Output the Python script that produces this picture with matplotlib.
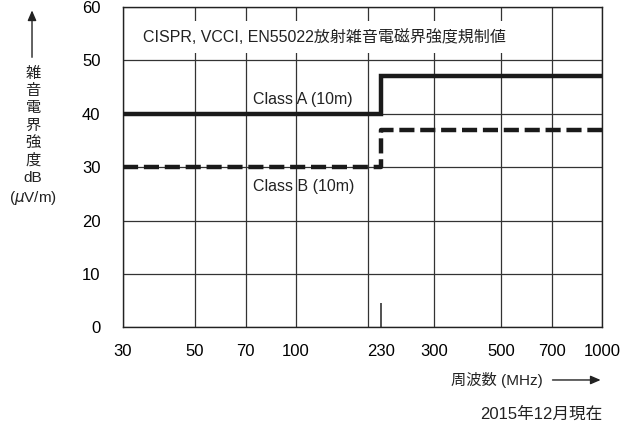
import numpy as np
import matplotlib
matplotlib.use("Agg")
import matplotlib.pyplot as plt
from matplotlib.ticker import FixedLocator, FixedFormatter
import matplotlib.transforms as mtransforms

plt.rcParams['font.family'] = ['Liberation Sans', 'Noto Sans CJK JP', 'DejaVu Sans']

# limit values (dBuV/m) vs frequency (MHz)
class_a_freq = [30, 230, 1000]
class_a_level = [40, 47, 47]
class_b_freq = [30, 230, 1000]
class_b_level = [30, 37, 37]

# gridlines (200 has no label) and the single marked frequency 230
grid_freqs = [30, 50, 70, 100, 200, 300, 500, 700, 1000]
grid_labels = ['30', '50', '70', '100', '', '300', '500', '700', '1000']
mark_freqs = [230]
mark_labels = ['230']
y_ticks = [0, 10, 20, 30, 40, 50, 60]

# the original axis is a hand drawn log scale, not quite even
axis_freqs = [30, 50, 70, 100, 200, 230, 300, 500, 700, 1000]
axis_pos = [0, 0.1508, 0.2565, 0.3613, 0.5115, 0.5392, 0.6497, 0.7894, 0.8945, 1.0]
log_f = np.log10(axis_freqs)


def forward(x):
    x = np.clip(np.asarray(x, dtype=float), 1e-6, None)
    return np.interp(np.log10(x), log_f, axis_pos)


def inverse(p):
    return 10 ** np.interp(p, axis_pos, log_f)


fig = plt.figure(figsize=(6.24, 4.23), dpi=100)
ax = fig.add_axes([0.1966, 0.2262, 0.7686, 0.7573])
ax.set_xscale('function', functions=(forward, inverse))
ax.set_xlim(30, 1000)
ax.set_ylim(0, 60)

ax.plot(class_a_freq, class_a_level, drawstyle='steps-post', color='#1a1a1a',
        lw=3.2, solid_joinstyle='miter', zorder=3)
ax.plot(class_b_freq, class_b_level, drawstyle='steps-post', color='#1a1a1a',
        lw=3.2, linestyle=(0, (3.4, 1.3)), dash_capstyle='butt', zorder=3)

ax.xaxis.set_major_locator(FixedLocator(grid_freqs))
ax.xaxis.set_major_formatter(FixedFormatter(grid_labels))
ax.xaxis.set_minor_locator(FixedLocator(mark_freqs))
ax.xaxis.set_minor_formatter(FixedFormatter(mark_labels))
ax.set_yticks(y_ticks)

ax.tick_params(axis='x', which='major', length=0, labelsize=12, pad=12)
ax.tick_params(axis='x', which='minor', direction='in', length=17, width=1.2,
               color='#333333', labelsize=12, pad=12)
ax.tick_params(axis='y', length=0, labelsize=12, pad=16)
ax.grid(axis='both', which='major', color='#333333', lw=0.9)
ax.set_axisbelow(True)
for s in ax.spines.values():
    s.set_color('#222222')
    s.set_linewidth(1.0)

ax.text(0.0423, 0.906, 'CISPR, VCCI, EN55022放射雑音電磁界強度規制値',
        transform=ax.transAxes, fontsize=11.5, ha='left', va='center',
        color='#222222', zorder=4,
        bbox=dict(facecolor='white', edgecolor='none', pad=6))

blend = mtransforms.blended_transform_factory(ax.transAxes, ax.transData)
ax.text(0.2717, 42.6, 'Class A (10m)', transform=blend, fontsize=11.5,
        ha='left', va='center', color='#222222')
ax.text(0.2717, 26.3, 'Class B (10m)', transform=blend, fontsize=11.5,
        ha='left', va='center', color='#222222')

# y label, stacked vertically with an arrow pointing up
fig.text(0.053, 0.842, '雑\n音\n電\n界\n強\n度\ndB\n($\\mu$V/m)', ha='center',
         va='top', fontsize=11, linespacing=1.3, color='#222222')
fig.add_artist(matplotlib.patches.FancyArrowPatch(
    (0.0513, 0.858), (0.0513, 0.982), transform=fig.transFigure,
    arrowstyle='-|>,head_length=6,head_width=2.6', lw=1.0, color='#222222'))

# x label with an arrow pointing right
fig.text(0.870, 0.1017, '周波数 (MHz)', ha='right', va='center', fontsize=11,
         color='#222222')
fig.add_artist(matplotlib.patches.FancyArrowPatch(
    (0.881, 0.1017), (0.967, 0.1017), transform=fig.transFigure,
    arrowstyle='-|>,head_length=6,head_width=2.6', lw=1.0, color='#222222'))

fig.text(0.965, 0.02, '2015年12月現在', ha='right', va='center', fontsize=12,
         color='#222222')

fig.savefig('out.png', dpi=100)
